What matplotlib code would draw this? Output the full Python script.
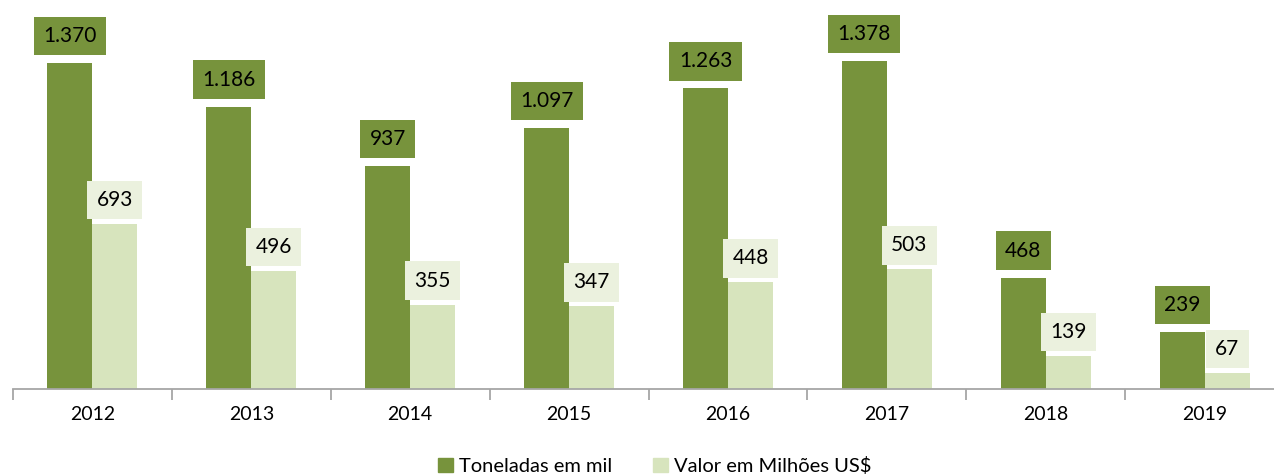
import matplotlib
matplotlib.use("Agg")
import numpy as np
import matplotlib.pyplot as plt
from matplotlib.patches import Patch

# data
years = ["2012", "2013", "2014", "2015", "2016", "2017", "2018", "2019"]
toneladas = [1370, 1186, 937, 1097, 1263, 1378, 468, 239]
valor = [693, 496, 355, 347, 448, 503, 139, 67]
toneladas_labels = ["1.370", "1.186", "937", "1.097", "1.263", "1.378", "468", "239"]
valor_labels = ["693", "496", "355", "347", "448", "503", "139", "67"]

DARK = "#77933C"
LIGHT = "#D7E4BD"
LIGHT_BOX = "#EBF1DE"
AXIS = "#A6A6A6"

plt.rcParams["font.family"] = ["Lato", "DejaVu Sans"]

fig = plt.figure(figsize=(12.74, 4.75), dpi=100)
W, H = 1274, 475
ax = fig.add_axes([13 / W, 86 / H, 1271 / W, 389 / H])

x = np.arange(len(years))
bw = 0.283
b1 = ax.bar(x - bw / 2, toneladas, bw, color=DARK, label="Toneladas em mil")
b2 = ax.bar(x + bw / 2, valor, bw, color=LIGHT, label="Valor em Milhões US$")

ax.set_xlim(-0.5, len(years) - 0.5)
ax.set_ylim(0, 389 / 0.238)

for rect, lab in zip(b1, toneladas_labels):
    ax.annotate(lab, (rect.get_x() + rect.get_width() / 2, rect.get_height()),
                xytext=(0, 27), textcoords="offset pixels", ha="center", va="center",
                fontsize=15, color="black",
                bbox=dict(boxstyle="square,pad=0.45", fc=DARK, ec="none"))
for rect, lab in zip(b2, valor_labels):
    ax.annotate(lab, (rect.get_x() + rect.get_width() / 2, rect.get_height()),
                xytext=(0, 24), textcoords="offset pixels", ha="center", va="center",
                fontsize=15, color="black",
                bbox=dict(boxstyle="square,pad=0.45", fc=LIGHT_BOX, ec="none"))

for s in ["top", "right", "left"]:
    ax.spines[s].set_visible(False)
ax.spines["bottom"].set_color(AXIS)
ax.spines["bottom"].set_linewidth(1.3)
ax.set_yticks([])

# category labels between boundary ticks
ax.set_xticks(x)
ax.set_xticklabels(years, fontsize=14)
ax.tick_params(axis="x", length=0, pad=12)
ax.set_xticks(np.arange(len(years) + 1) - 0.5, minor=True)
ax.tick_params(axis="x", which="minor", length=8, color=AXIS, width=1.3)

handles = [Patch(color=DARK, label="Toneladas em mil"),
           Patch(color=LIGHT, label="Valor em Milhões US$")]
fig.legend(handles=handles, loc="center", bbox_to_anchor=(655 / W, 1 - 466 / H),
           ncol=2, frameon=False, fontsize=14.5, handlelength=0.75, handleheight=0.75,
           handletextpad=0.3, columnspacing=2.0)

fig.savefig("out.png", dpi=100, facecolor="white")
